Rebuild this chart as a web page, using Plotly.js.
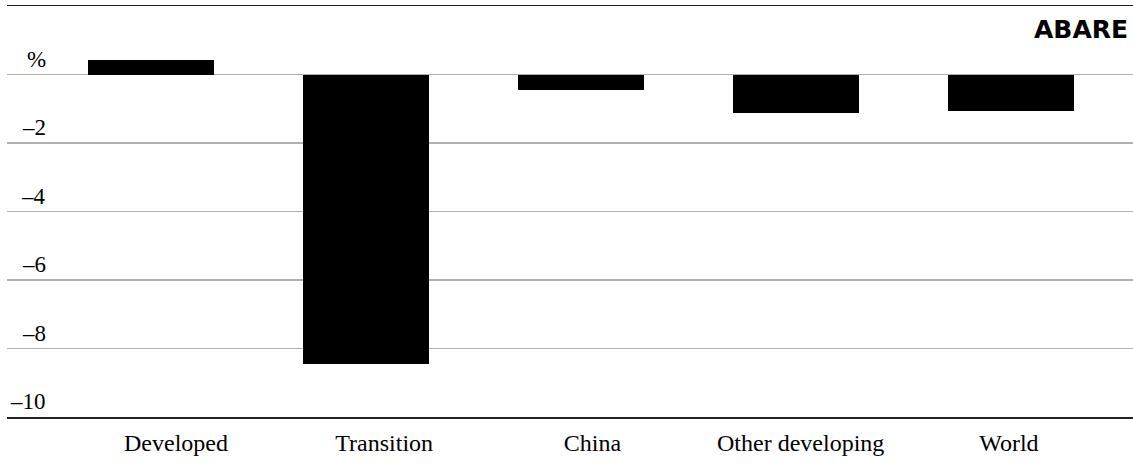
<!DOCTYPE html>
<html>
<head>
<meta charset="utf-8">
<script src="https://cdn.plot.ly/plotly-3.0.1.min.js"></script>
<style>html,body{margin:0;padding:0;background:#fff;}#chart{width:1133px;height:470px;}</style>
</head>
<body>
<div id="chart"></div>
<script>
const categories = ['Developed', 'Transition', 'China', 'Other developing', 'World'];
const values = [0.42, -8.44, -0.46, -1.13, -1.08];
const yTickVals = [0, -2, -4, -6, -8, -10];
const yTickText = ['%', '\u20132', '\u20134', '\u20136', '\u20138', '\u201310'];
const logoText = 'ABARE';

const serif = 'Times New Roman';

const traces = [
  {
    type: 'bar', x: categories, y: values, width: 0.586,
    marker: {color: '#000000', line: {width: 0}},
    hoverinfo: 'x+y', showlegend: false
  },
  {
    type: 'scatter', mode: 'markers', x: categories, y: values, xaxis: 'x2',
    marker: {opacity: 0}, hoverinfo: 'skip', showlegend: false
  }
];

const annotations = yTickVals.map((v, i) => ({
  xref: 'paper', yref: 'y', x: 0.0364, y: v, xanchor: 'right', yanchor: 'bottom',
  yshift: 1, text: yTickText[i], showarrow: false,
  font: {family: serif, size: 23, color: '#000'}
}));
annotations.push({
  xref: 'paper', yref: 'paper', x: 1, y: 0.942, xanchor: 'right', yanchor: 'middle',
  xshift: -3, text: '<b>' + logoText + '</b>', showarrow: false,
  font: {family: 'DejaVu Sans', size: 25, color: '#000'}
});

const layout = {
  width: 1133, height: 470,
  margin: {l: 7, r: 0, t: 6, b: 53},
  paper_bgcolor: '#ffffff', plot_bgcolor: '#ffffff',
  bargap: 0,
  xaxis: {
    type: 'category', range: [-0.67, 4.567], showticklabels: false, ticks: '',
    showline: true, mirror: true, linecolor: '#222', linewidth: 1.5,
    showgrid: false, zeroline: false, fixedrange: true
  },
  xaxis2: {
    type: 'category', overlaying: 'x', anchor: 'y', side: 'bottom',
    range: [-0.8115, 4.596], ticks: '', showline: false, showgrid: false, zeroline: false,
    ticklabelstandoff: 9,
    tickfont: {family: serif, size: 24, color: '#000'}
  },
  yaxis: {
    range: [-10, 2], tickmode: 'array', tickvals: [-10, -8, -6, -4, -2, 0, 2],
    showticklabels: false, ticks: '', showgrid: true, gridcolor: '#b0b0b0', gridwidth: 1.5,
    zeroline: false, showline: false, fixedrange: true
  },
  annotations: annotations,
  font: {family: serif, color: '#000'}
};

Plotly.newPlot('chart', traces, layout, {displayModeBar: false, staticPlot: true});
</script>
</body>
</html>
